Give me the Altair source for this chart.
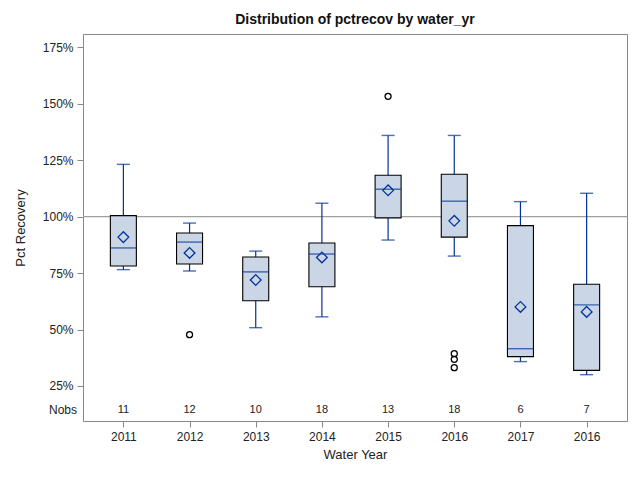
import altair as alt
import pandas as pd

labels = ["2011", "2012", "2013", "2014", "2015", "2016", "2017", "2016"]
ids = list(range(8))
w_low = [76.5, 75.9, 50.8, 55.6, 89.6, 82.5, 35.8, 30.0]
q1 = [78.1, 79.0, 62.7, 68.9, 99.4, 90.9, 38.0, 31.9]
median = [86.1, 88.7, 75.5, 83.4, 112.1, 106.8, 41.5, 60.9]
q3 = [100.4, 92.7, 82.1, 88.3, 118.3, 118.7, 96.0, 70.0]
w_high = [123.1, 97.1, 84.7, 105.9, 135.9, 135.9, 106.6, 110.3]
mean = [90.9, 83.9, 71.9, 81.9, 111.6, 98.1, 60.0, 57.8]
nobs = [11, 12, 10, 18, 13, 18, 6, 7]
out_id = [1, 4, 5, 5, 5]
out_val = [47.7, 153.2, 39.3, 36.8, 33.1]

BLUE = "#003399"
FILL = "#cad5e5"
FONT = "Liberation Sans"
NOBS_Y = 14.3

df = pd.DataFrame({"id": ids, "lo": w_low, "q1": q1, "med": median, "q3": q3,
                   "hi": w_high, "mean": mean, "nobs": nobs})
dfo = pd.DataFrame({"id": out_id, "v": out_val})

label_expr = "[" + ",".join(f"'{l}'" for l in labels) + "][datum.value]"

x = alt.X("id:O", scale=alt.Scale(type="point", padding=0.61),
          axis=alt.Axis(title="Water Year", labelExpr=label_expr, labelAngle=0,
                        labelFont=FONT, labelFontSize=12, labelColor="#222",
                        titleFont=FONT, titleFontSize=13, titleFontWeight="normal",
                        titleColor="#222", tickColor="#888", tickSize=6,
                        domain=False, labelPadding=4, titlePadding=6))
yscale = alt.Scale(domain=[9.5, 180.8], nice=False, zero=False)
yaxis = alt.Axis(title="Pct Recovery", values=[25, 50, 75, 100, 125, 150, 175],
                 labelExpr="datum.value + '%'", grid=False, domain=False,
                 labelFont=FONT, labelFontSize=12, labelColor="#222",
                 titleFont=FONT, titleFontSize=13, titleFontWeight="normal",
                 titleColor="#222", tickColor="#888", tickSize=6,
                 labelPadding=4, titlePadding=15)

base = alt.Chart(df)

ref = alt.Chart(pd.DataFrame({"r": [100]})).mark_rule(color="#a0a0a0", strokeWidth=1.2).encode(
    y=alt.Y("r:Q", scale=yscale, axis=yaxis))
whisk = base.mark_rule(color=BLUE, strokeWidth=1.2).encode(
    x=x, y=alt.Y("lo:Q", scale=yscale, axis=yaxis), y2="hi:Q")
box = base.mark_bar(size=26, fill=FILL, stroke="black", strokeWidth=1.1).encode(
    x=x, y=alt.Y("q1:Q", scale=yscale), y2="q3:Q")
med = base.mark_tick(size=26, thickness=1.4, color=BLUE).encode(
    x=x, y=alt.Y("med:Q", scale=yscale))
caplo = base.mark_tick(size=13, thickness=1.4, color=BLUE).encode(
    x=x, y=alt.Y("lo:Q", scale=yscale))
caphi = base.mark_tick(size=13, thickness=1.4, color=BLUE).encode(
    x=x, y=alt.Y("hi:Q", scale=yscale))
mn = base.mark_point(shape="diamond", size=115, filled=False, color=BLUE, strokeWidth=1.3, opacity=1).encode(
    x=x, y=alt.Y("mean:Q", scale=yscale))
outl = alt.Chart(dfo).mark_point(shape="circle", size=36, filled=False, color="black", strokeWidth=1.3, opacity=1).encode(
    x=x, y=alt.Y("v:Q", scale=yscale))
ntext = base.mark_text(font=FONT, fontSize=11, color="#222").encode(
    x=x, y=alt.Y(datum=NOBS_Y, scale=yscale), text="nobs:Q")
nlabel = alt.Chart(pd.DataFrame({"t": ["Nobs"]})).mark_text(
    font=FONT, fontSize=12, color="#222", align="right").encode(
    x=alt.value(-6), y=alt.Y(datum=NOBS_Y, scale=yscale), text="t:N")

chart = alt.layer(ref, whisk, box, med, caplo, caphi, mn, outl, ntext, nlabel).properties(
    width=544, height=387,
    title=alt.TitleParams("Distribution of pctrecov by water_yr", font=FONT, fontSize=14,
                          fontWeight="bold", color="#111", offset=7),
    autosize=alt.AutoSizeParams(type="none"),
    padding={"left": 75, "top": 26, "right": 5, "bottom": 51},
    background="white",
).configure_view(stroke="#888", strokeWidth=1)

chart.save("out.html", embed_options={"renderer": "svg", "actions": False})
